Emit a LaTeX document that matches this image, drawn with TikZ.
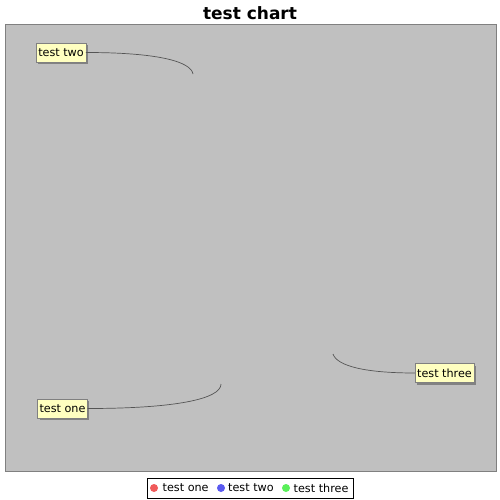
\documentclass[tikz,border=0pt]{standalone}
\usepackage{fontspec}
\setmainfont{DejaVu Sans}
\usetikzlibrary{shadows}
\definecolor{plotbg}{HTML}{C0C0C0}
\definecolor{plotedge}{HTML}{808080}
\definecolor{labbg}{HTML}{FFFFC0}
\definecolor{linkc}{HTML}{555555}
\definecolor{redc}{HTML}{F05A5A}
\definecolor{bluec}{HTML}{5A5AF0}
\definecolor{greenc}{HTML}{5AF05A}
\tikzset{
  lab/.style={draw=plotedge, fill=labbg, inner xsep=2pt, inner ysep=0pt,
    minimum height=19pt, font=\fontsize{11.2}{12}\selectfont,
    drop shadow={shadow xshift=2pt, shadow yshift=-2pt, fill=gray!70!black, opacity=0.6}},
  link/.style={draw=linkc, line width=0.7pt},
  legtxt/.style={anchor=west, inner sep=0pt, font=\fontsize{11.2}{12}\selectfont},
  dot/.style={circle, inner sep=0pt, minimum size=8pt}
}
\begin{document}
\begin{tikzpicture}[x=1pt,y=-1pt]
\useasboundingbox (0,0) rectangle (500,500);
\fill[white] (0,0) rectangle (500,500);
% plot area
\draw[plotedge, fill=plotbg, line width=1pt] (5,25) rectangle (496,471);
% title
\node[font=\fontsize{17}{20}\selectfont\bfseries] (title) at (250,13) {test chart};
% labels
\node[lab] (two) at (61,52.5) {test two};
\node[lab] (one) at (62.5,408.5) {test one};
\node[lab] (three) at (444.5,373) {test three};
\coordinate (twoEnd) at (193,74);
\coordinate (oneEnd) at (221,384);
\coordinate (threeEnd) at (333,354);
\draw[link] (two.east) .. controls (160,52.5) and (191,62) .. (twoEnd);
\draw[link] (one.east) .. controls (175,408.5) and (221,399) .. (oneEnd);
\draw[link] (three.west) .. controls (365,373) and (337,366) .. (threeEnd);
% legend
\node[draw=black, fill=white, line width=0.8pt, minimum width=206pt, minimum height=20pt, inner sep=0pt] (legend) at (250,488) {};
\node[dot, fill=redc] (d1) at (154,488) {};
\node[legtxt] (t1) at (162.5,488) {test one};
\node[dot, fill=bluec] (d2) at (221,488) {};
\node[legtxt] (t2) at (228,488) {test two};
\node[dot, fill=greenc] (d3) at (286,488) {};
\node[legtxt] (t3) at (293.5,488) {test three};
\end{tikzpicture}
\end{document}
